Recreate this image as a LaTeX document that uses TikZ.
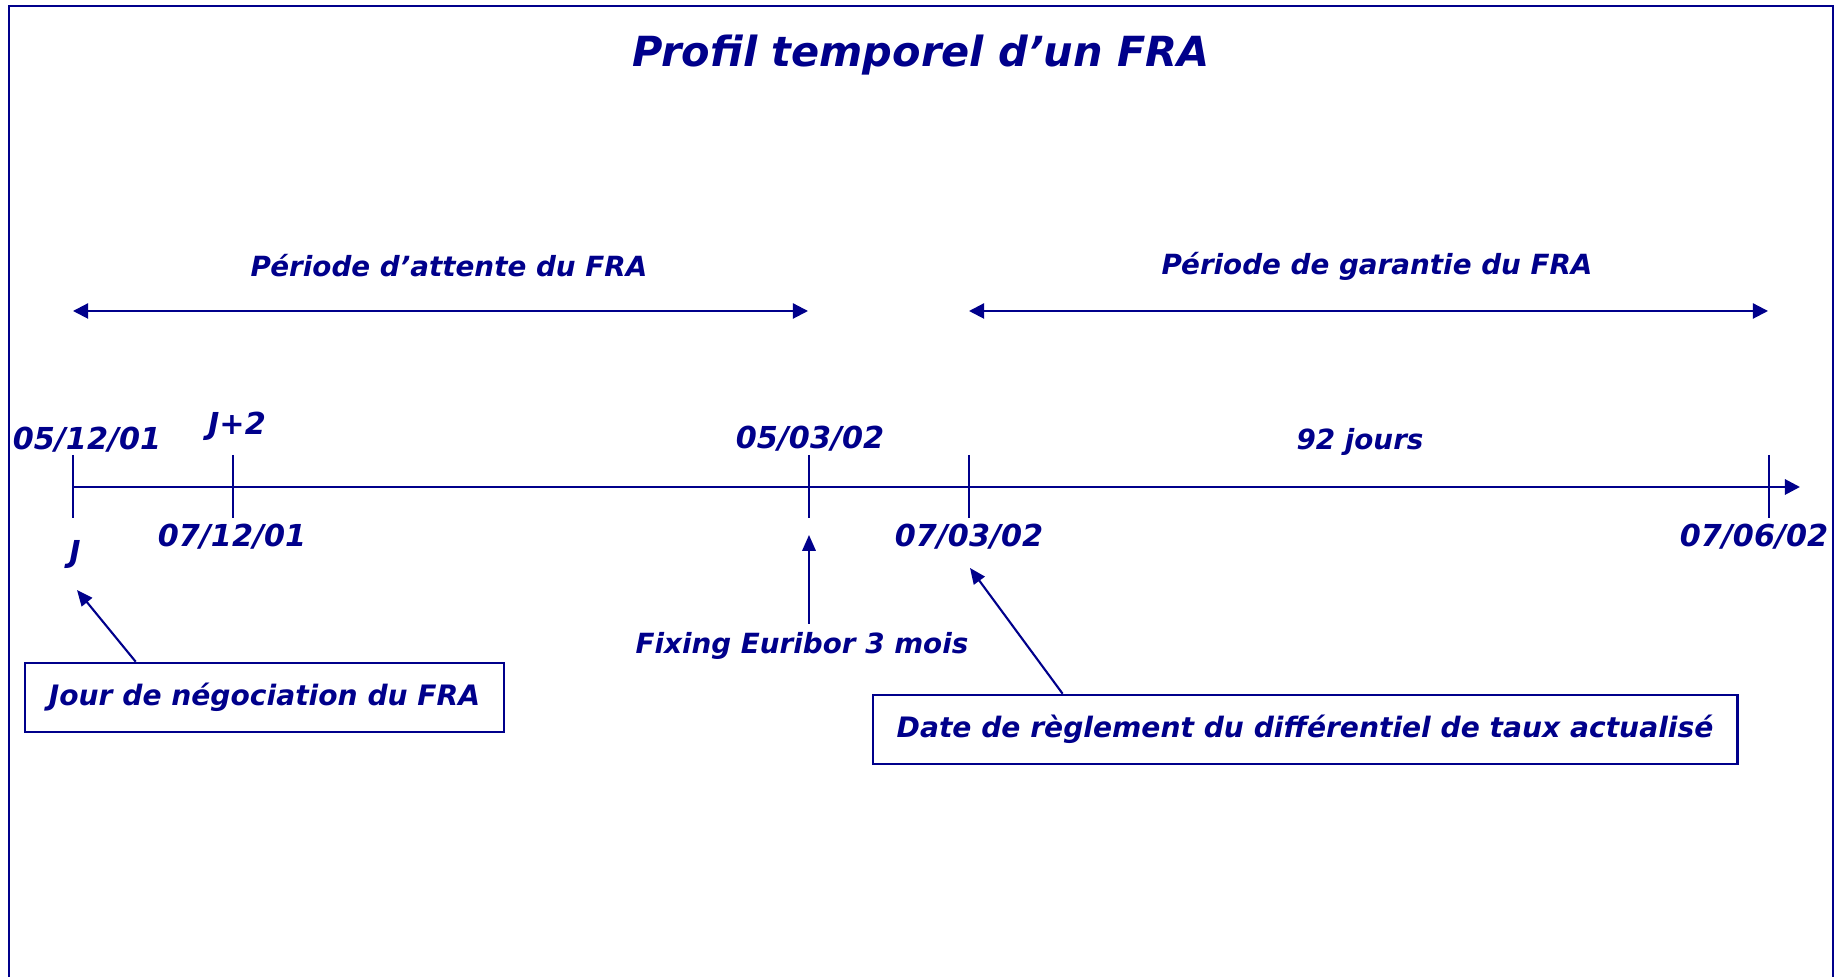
\documentclass[tikz,border=0pt]{standalone}
\usepackage{fontspec}
\setmainfont{DejaVu Sans}
\usetikzlibrary{arrows.meta}
\definecolor{fraBlue}{RGB}{0,0,139}
\newcommand{\dateTick}[2]{%%
  %% A tick across the time axis.
  \coordinate (#1) at (#2,\axisY);
  \draw[tickStyle] (#2,\tickTop) -- (#2,\tickBottom);
}
\newcommand{\dateLabel}[3]{%%
  \node[textStyle] (#1) at (#2) {#3};
}
\newcommand{\wordLabel}[3]{%%
  \node[wordStyle] (#1) at (#2) {#3};
}

\begin{document}
\begin{tikzpicture}[%%
  x=0.01cm,y=-0.01cm,%%
  frameStyle/.style={-,line width=0.6pt,fraBlue},%%
  axisStyle/.style={-{Triangle[length=4.3pt,width=4.3pt]},line width=0.8pt,fraBlue},%%
  tickStyle/.style={-,line width=0.8pt,fraBlue},%%
  spanStyle/.style={{Triangle[length=4.3pt,width=4.3pt]}-{Triangle[length=4.3pt,width=4.3pt]},line width=0.6pt,fraBlue},%%
  arrowStyle/.style={-{Triangle[length=4.5pt,width=3.8pt]},line width=0.6pt,fraBlue},%%
  textStyle/.style={text=fraBlue,inner sep=0pt,font=\bfseries\itshape\fontsize{8.6}{10}\selectfont},%%
  wordStyle/.style={text=fraBlue,inner sep=0pt,font=\bfseries\itshape\fontsize{7.9}{10}\selectfont},%%
  titleStyle/.style={text=fraBlue,inner sep=0pt,font=\bfseries\itshape\fontsize{11.8}{14}\selectfont},%%
  boxStyle/.style={draw=fraBlue,line width=0.7pt,text=fraBlue,inner sep=0pt,minimum height=0.69cm,font=\bfseries\itshape\fontsize{8}{10}\selectfont}
]
%%
\useasboundingbox (0,0) rectangle (1839,977);
%%
%% The frame (open at the bottom).
\draw[frameStyle] (9,977) -- (9,6) -- (1833,6) -- (1833,977);
\node[titleStyle] (title) at (921,55) {Profil temporel d’un FRA};
%%
%% The time axis.
\pgfmathsetmacro{\axisY}{487}
\pgfmathsetmacro{\tickTop}{455}
\pgfmathsetmacro{\tickBottom}{518}
\coordinate (axisEnd) at (1800,\axisY);
\dateTick{negociation}{73}
\dateTick{valeur}{233}
\dateTick{fixing}{809}
\dateTick{reglement}{969}
\dateTick{echeance}{1769}
\draw[axisStyle] (negociation) -- (axisEnd);
%%
%% The two periods.
\coordinate (attenteStart) at (73,311);
\coordinate (attenteEnd) at (808,311);
\coordinate (garantieStart) at (969,311);
\coordinate (garantieEnd) at (1768,311);
\draw[spanStyle] (attenteStart) -- (attenteEnd);
\draw[spanStyle] (garantieStart) -- (garantieEnd);
\wordLabel{attente}{449,266}{Période d’attente du FRA}
\wordLabel{garantie}{1377,266}{Période de garantie du FRA}
%%
%% Dates above and below the axis.
\dateLabel{dNegociation}{87,440}{05/12/01}
\dateLabel{jPlusDeux}{237,426}{J+2}
\dateLabel{dFixing}{810,439}{05/03/02}
\wordLabel{duree}{1360,442}{92 jours}
\dateLabel{dValeur}{232,537}{07/12/01}
\dateLabel{dReglement}{969,537}{07/03/02}
\dateLabel{dEcheance}{1754,537}{07/06/02}
\dateLabel{jour}{75,555}{J}
%%
%% The comments and their arrows.
\node[boxStyle,minimum width=4.79cm] (jourBox) at (264.5,697.5) {Jour de négociation du FRA};
\node[boxStyle,minimum width=8.64cm] (reglementBox) at (1305,729.5) {Date de règlement du différentiel de taux actualisé};
\wordLabel{euribor}{802,646}{Fixing Euribor 3 mois}
\coordinate (jourTip) at (77,590);
\coordinate (euriborTip) at (809,535);
\coordinate (reglementTip) at (970,568);
\draw[arrowStyle] ([xshift=1.12cm]jourBox.north west) -- (jourTip);
\draw[arrowStyle] (euribor.north -| euriborTip) ++(0,-8) -- (euriborTip);
\draw[arrowStyle] ([xshift=1.91cm]reglementBox.north west) -- (reglementTip);
\end{tikzpicture}
\end{document}
